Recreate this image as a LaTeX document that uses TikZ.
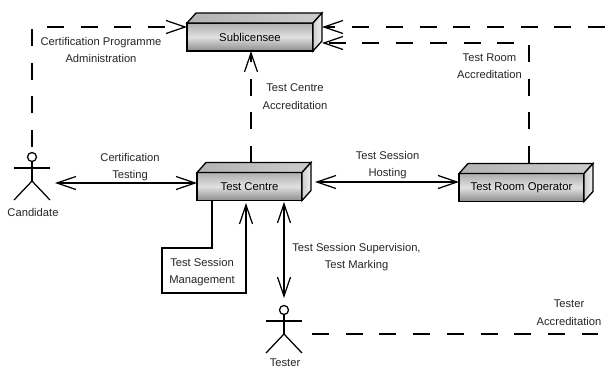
\documentclass[tikz,border=0pt]{standalone}
\usepackage{fontspec}
\setmainfont{Liberation Sans}
\usetikzlibrary{arrows.meta}

% 3D box: name, centre x, centre y, width, text
\newcommand{\solidbox}[5]{
  \node[boxfront,minimum width=#4] (#1) at (#2,#3) {#5};
  \draw[boxside,left color=black!30,right color=black!20] (#1.north west) -- ++(9,-10) -- ++(#4,0) -- ++(-9,10) -- cycle;
  \draw[boxside,left color=black!20,right color=black!6] (#1.north east) -- ++(9,-10) -- ++(0,28) -- (#1.south east) -- cycle;
}
% stick figure: name, centre x, head y, label offset
\newcommand{\stickman}[4]{
  \node[actorbox] (#1) at (#2,#3+24) {};
  \draw[thin line] (#2,#3) circle (4.5);
  \draw[thin line] (#2,#3+4.5) -- (#2,#3+24);
  \draw[thin line] (#2-18,#3+11) -- (#2+18,#3+11);
  \draw[thin line] (#2-18,#3+43) -- (#2,#3+24) -- (#2+18,#3+43);
  \node[lbl] (#1label) at (#2+1,#3+#4) {#1};
}

\begin{document}
\begin{tikzpicture}[x=1pt,y=-1pt,
    lbl/.style={font=\fontsize{11.2}{17.5}\selectfont,align=center,inner sep=0pt,text=black!85},
    boxfront/.style={draw,line width=1.3pt,minimum height=28,inner sep=0pt,outer sep=0pt,
      top color=black!32,bottom color=black!45,middle color=black!12,font=\fontsize{11.3}{12}\selectfont},
    boxside/.style={draw,line width=1.3pt,line join=miter},
    actorbox/.style={inner sep=0pt,outer sep=0pt,minimum width=36,minimum height=48},
    thin line/.style={line width=1.25pt},
    link/.style={line width=1.25pt,-{Straight Barb[length=19pt,width=13pt,line width=1.25pt]}},
    both/.style={line width=1.25pt,{Straight Barb[length=19pt,width=13pt,line width=1.25pt]}-{Straight Barb[length=19pt,width=13pt,line width=1.25pt]}},
    longdash/.style={dash pattern=on 17pt off 16.7pt}]
  \useasboundingbox (0,0) rectangle (605,368);
  \fill[white] (0,0) rectangle (605,368);

  \solidbox{subl}{250}{37}{126}{Sublicensee}
  \solidbox{tc}{249.5}{186.5}{105}{Test Centre}
  \solidbox{trop}{521.5}{187.5}{125}{Test Room Operator}
  \stickman{Candidate}{32}{157}{55}
  \stickman{Tester}{284}{310}{52.5}

  % free ends of the dashed lines
  \coordinate (topend) at (605,27);
  \coordinate (testerend) at (598,334);
  \coordinate (tctop) at (251,163);
  \coordinate (troptop) at (529,163);
  \coordinate (sublside) at (322,27);
  \coordinate (sublside2) at (322,43);

  % accreditation lines
  \draw[link,longdash,shorten <=10pt] (Candidate.north) |- (subl.north west |- topend);
  \draw[link,longdash] (topend) -- (sublside);
  \draw[link,longdash] (troptop) |- (sublside2);
  \draw[link,longdash] (tctop) -- (tctop |- subl.south);
  \draw[line width=1.25pt,longdash] (Tester.east |- testerend) ++(10,0) -- (testerend);

  % session lines
  \draw[both] (Candidate.east |- 0,183) ++(5,0) -- (tc.west |- 0,183);
  \draw[both] (315,182) -- (trop.west |- 0,182);
  \draw[both] (284,202) -- (284,298);
  \draw[link] (212,201) -- (212,248) -- (162,248) -- (162,293) -- (246,293) -- (246,203);

  % labels
  \node[lbl] (lcert) at (101,50) {Certification Programme\\Administration};
  \node[lbl] (ltc) at (295,96.5) {Test Centre\\Accreditation};
  \node[lbl] (ltest) at (130,167) {Certification\\Testing};
  \node[lbl] (lhost) at (387.5,165) {Test Session\\Hosting};
  \node[lbl] (lroom) at (489.5,66) {Test Room\\Accreditation};
  \node[lbl] (lmgmt) at (202,272) {Test Session\\Management};
  \node[lbl] (lsup) at (356.5,257) {Test Session Supervision,\\Test Marking};
  \node[lbl] (lacc) at (569,312.5) {Tester\\Accreditation};
\end{tikzpicture}
\end{document}
